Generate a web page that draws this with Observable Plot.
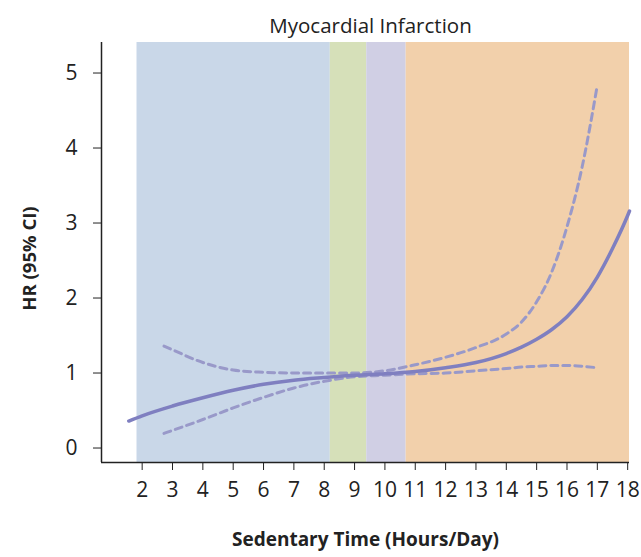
<!DOCTYPE html>
<html>
<head>
<meta charset="utf-8">
<script src="https://cdn.jsdelivr.net/npm/d3@7"></script>
<script src="https://cdn.jsdelivr.net/npm/@observablehq/plot@0.6"></script>
<style>
  html, body { margin: 0; padding: 0; background: #fff; }
  svg { display: block; }
</style>
</head>
<body>
<div id="chart"></div>
<script>
// Sedentary-time categories shown as shaded bands (hours/day)
const bandStart = [1.83, 8.2, 9.4, 10.7];
const bandEnd   = [8.2, 9.4, 10.7, 18.06];
const bandColor = ["#c9d7e8", "#d6e0b9", "#d0cfe4", "#f2d0ab"];

// Hazard ratio spline
const hrX = [1.56, 2, 3, 4, 5, 6, 7, 8, 9, 10, 11, 12, 13, 14, 14.5, 15, 15.5, 16, 16.5, 17, 17.5, 18, 18.06];
const hrY = [0.36, 0.43, 0.56, 0.67, 0.77, 0.85, 0.905, 0.94, 0.97, 0.99, 1.02, 1.07, 1.14, 1.26, 1.345, 1.45, 1.58, 1.75, 1.98, 2.28, 2.66, 3.10, 3.16];

// 95% confidence interval
const ciX     = [2.72, 3, 4, 5, 6, 7, 8, 9, 10, 11, 12, 13, 14, 14.5, 15, 15.5, 16, 16.5, 17];
const ciUpper = [1.36, 1.31, 1.14, 1.04, 1.01, 1.00, 1.00, 1.00, 1.03, 1.11, 1.21, 1.34, 1.52, 1.68, 1.95, 2.35, 2.95, 3.75, 4.84];
const ciLower = [0.195, 0.235, 0.38, 0.535, 0.675, 0.80, 0.89, 0.95, 0.97, 0.99, 1.00, 1.03, 1.06, 1.08, 1.09, 1.10, 1.10, 1.09, 1.07];

const xTicks = d3.range(2, 19);
const yTicks = [0, 1, 2, 3, 4, 5];

const bands = bandStart.map((s, i) => ({start: s, end: bandEnd[i], color: bandColor[i]}));
const hr = hrX.map((x, i) => ({x, y: hrY[i]}));
const upper = ciX.map((x, i) => ({x, y: ciUpper[i]}));
const lower = ciX.map((x, i) => ({x, y: ciLower[i]}));

const xDomain = [0.66, 18.06];
const yDomain = [-0.193, 5.407];
const lineColor = "#7f7fc0";
const dashColor = "#9999c9";
const font = "'Open Sans', 'Noto Sans', sans-serif";

const chart = Plot.plot({
  width: 641,
  height: 557,
  marginTop: 42,
  marginBottom: 95,
  marginLeft: 101,
  marginRight: 12,
  style: {fontFamily: font, background: "#fff", color: "#222"},
  x: {domain: xDomain},
  y: {domain: yDomain},
  marks: [
    Plot.rect(bands, {x1: "start", x2: "end", fill: "color"}),
    Plot.line(upper, {x: "x", y: "y", stroke: dashColor, strokeWidth: 3, strokeDasharray: "7,5", curve: "monotone-x"}),
    Plot.line(lower, {x: "x", y: "y", stroke: dashColor, strokeWidth: 3, strokeDasharray: "7,5", curve: "monotone-x"}),
    Plot.line(hr, {x: "x", y: "y", stroke: lineColor, strokeWidth: 3.5, curve: "monotone-x"}),
    Plot.ruleX([xDomain[0]], {stroke: "#222", strokeWidth: 1.5}),
    Plot.ruleY([yDomain[0]], {stroke: "#222", strokeWidth: 1.5}),
    Plot.axisX(xTicks, {tickSize: 8, tickPadding: 12, fontSize: 21, label: null, tickFormat: d => d, stroke: "#222"}),
    Plot.axisY(yTicks, {tickSize: 8, tickPadding: 16, fontSize: 21, label: null, tickFormat: d => d, stroke: "#222"}),
    Plot.text(["Myocardial Infarction"], {frameAnchor: "top", dy: -24, dx: 5, fontSize: 20.5, fill: "#222"}),
    Plot.text(["Sedentary Time (Hours/Day)"], {frameAnchor: "bottom", dy: 83, fontSize: 19, fontWeight: "bold", fill: "#222"}),
    Plot.text(["HR (95% CI)"], {frameAnchor: "left", textAnchor: "middle", dx: -71, dy: 6, rotate: -90, fontSize: 18.5, fontWeight: "bold", fill: "#222"})
  ]
});
document.getElementById("chart").appendChild(chart);
</script>
</body>
</html>
